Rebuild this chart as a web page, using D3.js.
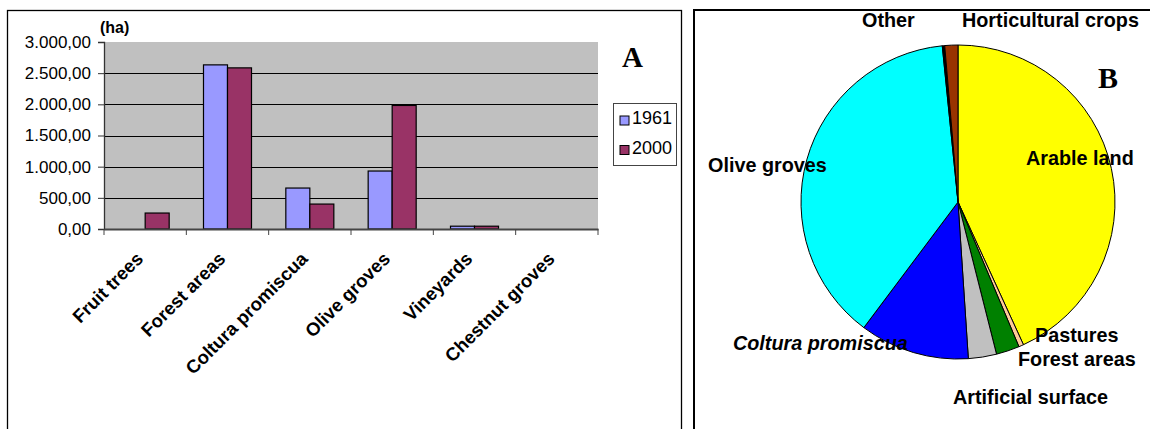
<head>
<script src="https://d3js.org/d3.v7.min.js" charset="utf-8"></script>
</head>

<body>
<div id="chart"></div>

<style>
    body {margin:0;background:#fff;}
    text {font-family:"Liberation Sans", Arial, sans-serif;}
</style>

<script>

// bar chart (A)
const categories = ["Fruit trees", "Forest areas", "Coltura promiscua", "Olive groves", "Vineyards", "Chestnut groves"];
const years = ["1961", "2000"];
const values1961 = [0, 2633, 657, 930, 45, 0];
const values2000 = [256, 2585, 400, 1982, 45, 0];
const yTicks = [0, 500, 1000, 1500, 2000, 2500, 3000];

// pie chart (B)
const pieLabels = ["Arable land", "Pastures", "Forest areas", "Artificial surface", "Coltura promiscua", "Olive groves", "Other", "Horticultural crops"];
const pieValues = [43.2, 0.5, 2.4, 2.9, 11.3, 38.2, 0.25, 1.35];
const pieColors = ["#FFFF00", "#FFCC99", "#008000", "#C0C0C0", "#0000FF", "#00FFFF", "#000000", "#993300"];

const width = 1150, height = 429;

const svg = d3.select("#chart").append("svg")
    .attr("width", width)
    .attr("height", height);

// panel frames
svg.append("rect")
    .attr("x", 7.5).attr("y", 10.5)
    .attr("width", 674).attr("height", 440)
    .style("fill", "none").style("stroke", "#000").style("stroke-width", 1.3);

svg.append("path")
    .attr("d", "M694,440V10H1160")
    .style("fill", "none").style("stroke", "#000").style("stroke-width", 2);

const plot = {left: 104, right: 598, top: 42, bottom: 229};

const x0 = d3.scaleBand()
    .domain(categories)
    .range([plot.left, plot.right]);

const x1 = d3.scaleBand()
    .domain(years)
    .range([0, x0.bandwidth()])
    .paddingOuter(0.715);

const y = d3.scaleLinear()
    .domain([0, 3000])
    .range([plot.bottom, plot.top]);

const locale = d3.formatLocale({decimal: ",", thousands: ".", grouping: [3], currency: ["", ""]});
const fmt = locale.format(",.2f");

svg.append("rect")
    .attr("x", plot.left).attr("y", plot.top)
    .attr("width", plot.right - plot.left).attr("height", plot.bottom - plot.top)
    .style("fill", "#C0C0C0");

svg.append("g")
    .selectAll("line")
    .data(yTicks.filter(d => d > 0 && d < 3000))
    .enter().append("line")
    .attr("x1", plot.left).attr("x2", plot.right)
    .attr("y1", d => Math.round(y(d)) + 0.5).attr("y2", d => Math.round(y(d)) + 0.5)
    .style("stroke", "#000").style("stroke-width", 1);

const series = years.map((yr, i) => ({year: yr, values: i === 0 ? values1961 : values2000}));
const barColor = d3.scaleOrdinal().domain(years).range(["#9999FF", "#993366"]);

const rows = [];
categories.forEach((c, ci) => {
    series.forEach(s => rows.push({cat: c, year: s.year, value: s.values[ci]}));
});

svg.append("g")
    .selectAll("rect")
    .data(rows.filter(d => d.value > 0))
    .enter().append("rect")
    .attr("x", d => x0(d.cat) + x1(d.year))
    .attr("y", d => y(d.value))
    .attr("width", x1.bandwidth())
    .attr("height", d => y(0) - y(d.value))
    .style("fill", d => barColor(d.year))
    .style("stroke", "#000")
    .style("stroke-width", 1.2);

const yAxis = svg.append("g")
    .attr("transform", `translate(${plot.left},0)`)
    .call(d3.axisLeft(y).tickValues(yTicks).tickFormat(fmt).tickSize(6).tickPadding(7));
yAxis.select(".domain").style("stroke", "#333").style("stroke-width", 1.3);
yAxis.selectAll(".tick line").style("stroke", "#333");
yAxis.selectAll("text")
    .style("font-family", '"Liberation Sans", Arial, sans-serif')
    .style("font-size", "17px")
    .style("fill", "#000");

const xAxis = svg.append("g")
    .attr("transform", `translate(0,${plot.bottom})`)
    .call(d3.axisBottom(x0).tickSize(0).tickFormat(""));
xAxis.select(".domain").style("stroke", "#444").style("stroke-width", 2);

svg.append("g")
    .selectAll("line")
    .data(categories.map(c => x0(c)).concat([plot.right]))
    .enter().append("line")
    .attr("x1", d => d).attr("x2", d => d)
    .attr("y1", plot.bottom).attr("y2", plot.bottom + 6)
    .style("stroke", "#444");

svg.append("g")
    .selectAll("text")
    .data(categories)
    .enter().append("text")
    .attr("transform", d => `translate(${x0(d) + x0.bandwidth() / 2 - 1},260) rotate(-45)`)
    .attr("text-anchor", "end")
    .style("font-size", "18.5px")
    .style("font-weight", "bold")
    .text(d => d);

svg.append("text")
    .attr("x", 100).attr("y", 33)
    .style("font-size", "16px").style("font-weight", "bold")
    .text("(ha)");

svg.append("text")
    .attr("x", 622).attr("y", 67)
    .style("font-family", '"Liberation Serif", "Times New Roman", serif')
    .style("font-size", "29px").style("font-weight", "bold")
    .text("A");

const legend = svg.append("g");
legend.append("rect")
    .attr("x", 613.5).attr("y", 103.5)
    .attr("width", 63).attr("height", 62)
    .style("fill", "#fff").style("stroke", "#444");
const leg = legend.selectAll("g")
    .data(years)
    .enter().append("g")
    .attr("transform", (d, i) => `translate(620,${116 + i * 29.5})`);
leg.append("rect")
    .attr("width", 9).attr("height", 9)
    .style("fill", d => barColor(d)).style("stroke", "#000");
leg.append("text")
    .attr("x", 12).attr("y", 8)
    .style("font-size", "18px")
    .text(d => d);

// pie
const cx = 958, cy = 202, radius = 157;

const pie = d3.pie().sort(null).value(d => d);
const arc = d3.arc().innerRadius(0).outerRadius(radius);

svg.append("g")
    .attr("transform", `translate(${cx},${cy})`)
    .selectAll("path")
    .data(pie(pieValues))
    .enter().append("path")
    .attr("d", arc)
    .style("fill", (d, i) => pieColors[i])
    .style("stroke", "#000")
    .style("stroke-width", 1);

const labelPos = {
    "Arable land": [1026, 165],
    "Pastures": [1035, 342],
    "Forest areas": [1018, 366],
    "Artificial surface": [953, 404],
    "Coltura promiscua": [733, 350],
    "Olive groves": [708, 172],
    "Other": [862, 27],
    "Horticultural crops": [962, 27]
};

svg.append("g")
    .selectAll("text")
    .data(pieLabels)
    .enter().append("text")
    .attr("x", d => labelPos[d][0])
    .attr("y", d => labelPos[d][1])
    .style("font-size", "19.8px")
    .style("font-weight", "bold")
    .style("font-style", d => d === "Coltura promiscua" ? "italic" : "normal")
    .text(d => d);

svg.append("text")
    .attr("x", 1098).attr("y", 88)
    .style("font-family", '"Liberation Serif", "Times New Roman", serif')
    .style("font-size", "30px").style("font-weight", "bold")
    .text("B");

</script>

</body>
